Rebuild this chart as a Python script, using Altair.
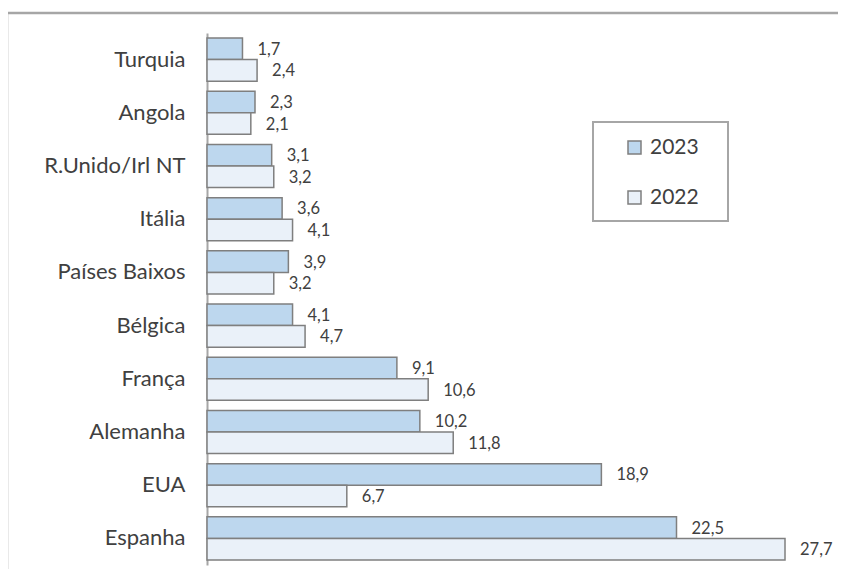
import altair as alt
import pandas as pd

countries = ["Turquia", "Angola", "R.Unido/Irl NT", "Itália", "Países Baixos",
             "Bélgica", "França", "Alemanha", "EUA", "Espanha"]
v2023 = [1.7, 2.3, 3.1, 3.6, 3.9, 4.1, 9.1, 10.2, 18.9, 22.5]
v2022 = [2.4, 2.1, 3.2, 4.1, 3.2, 4.7, 10.6, 11.8, 6.7, 27.7]
years = ["2023", "2022"]

rows = []
for c, a, b in zip(countries, v2023, v2022):
    rows.append({"pais": c, "ano": "2023", "valor": a})
    rows.append({"pais": c, "ano": "2022", "valor": b})
df = pd.DataFrame(rows)
df["rotulo"] = df["valor"].map(lambda v: f"{v:.1f}".replace(".", ","))

FONT = "Lato"
TXT = "#404040"
GRID = "#a6a6a6"

y_enc = alt.Y("pais:N", sort=countries, title=None,
              scale=alt.Scale(paddingInner=0.19, paddingOuter=0.095),
              axis=alt.Axis(labelFont=FONT, labelFontSize=22, labelColor=TXT,
                            labelPadding=22, ticks=False, domainColor=GRID,
                            domainWidth=2, labelLimit=300))
yoff = alt.YOffset("ano:N", sort=years, scale=alt.Scale(paddingInner=0, paddingOuter=0))
x_enc = alt.X("valor:Q", scale=alt.Scale(domain=[0, 30], nice=False), axis=None)

base = alt.Chart(df)

bars = base.mark_bar(stroke="#7f7f7f", strokeWidth=1.5).encode(
    y=y_enc, yOffset=yoff, x=x_enc,
    color=alt.Color("ano:N", sort=years,
                    scale=alt.Scale(domain=years, range=["#bdd7ee", "#eaf1f9"]),
                    legend=alt.Legend(title=None, orient="none", legendX=417, legendY=104,
                                      direction="vertical", symbolType="square",
                                      symbolSize=169, symbolStrokeColor="#7f7f7f",
                                      symbolStrokeWidth=1.5, symbolOpacity=1,
                                      labelFont=FONT, labelFontSize=21, labelColor=TXT,
                                      labelOffset=5, rowPadding=28, padding=0))
)

labels = base.mark_text(align="left", baseline="middle", dx=15, dy=1,
                        font=FONT, fontSize=16.5, color=TXT).encode(
    y=alt.Y("pais:N", sort=countries), yOffset=yoff, x=x_enc, text="rotulo:N"
)

one = pd.DataFrame({"k": [0]})
legend_box = alt.Chart(one).mark_rect(fill="white", stroke=GRID, strokeWidth=2).encode(
    x=alt.value(386), x2=alt.value(521), y=alt.value(89), y2=alt.value(188)
)
frame_top = alt.Chart(one).mark_rule(color=GRID, strokeWidth=2.5).encode(
    x=alt.value(-200), x2=alt.value(700), y=alt.value(-20)
)
frame_left = alt.Chart(one).mark_rule(color=GRID, strokeWidth=2.5).encode(
    x=alt.value(-200), y=alt.value(-20), y2=alt.value(600)
)

chart = alt.layer(frame_top, frame_left, legend_box, bars, labels).properties(
    width=626, height=532,
    autosize=alt.AutoSizeParams(type="none"),
    padding={"left": 199, "top": 25, "right": 5, "bottom": 4},
).configure(background="white").configure_view(stroke=None, strokeWidth=0)

chart.save("out.html", embed_options={"renderer": "svg", "actions": False})
